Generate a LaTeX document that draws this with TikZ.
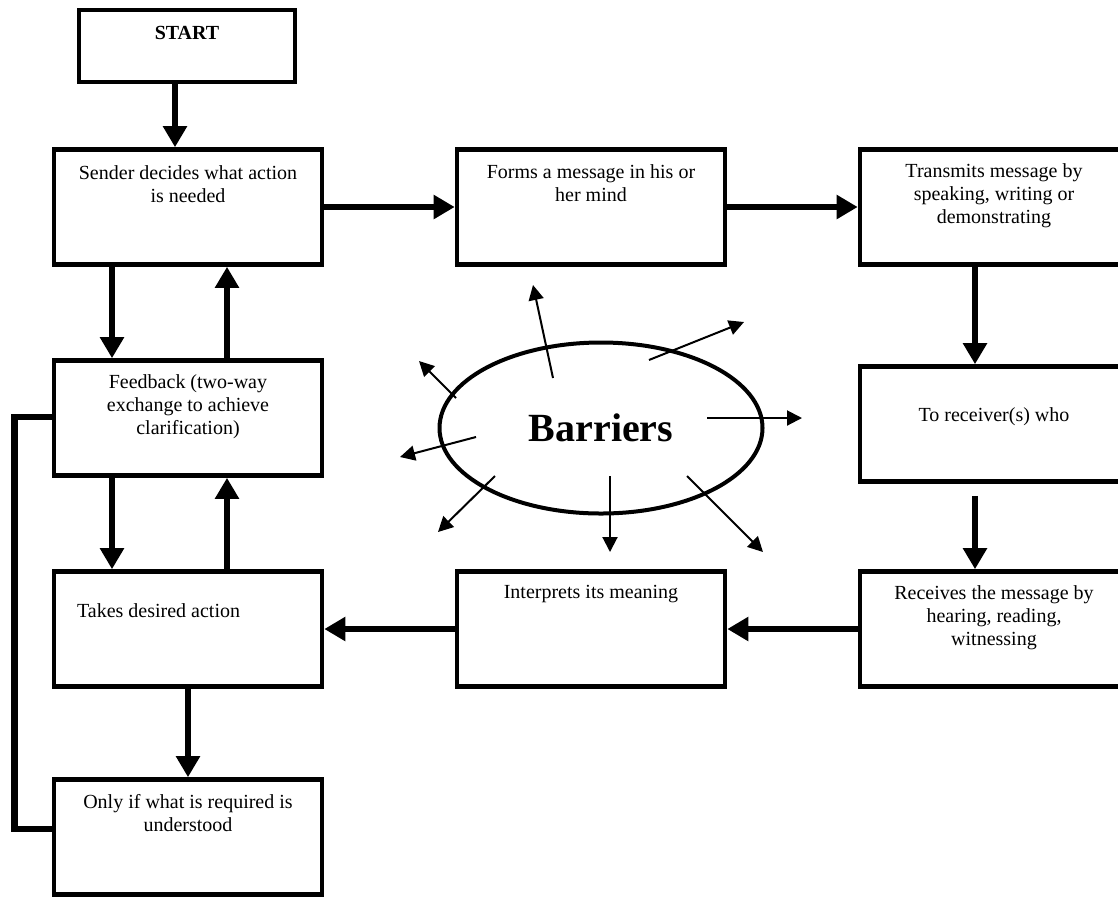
\documentclass[tikz,border=0pt]{standalone}
\usepackage{fontspec}
\setmainfont{Liberation Serif}
\usetikzlibrary{arrows.meta,shapes.geometric}

\begin{document}
\begin{tikzpicture}[x=0.5pt, y=-0.5pt, every node/.style={font=\fontsize{10}{11.5}\selectfont},
	box/.style={draw, line width=2.3pt, minimum width=134pt, minimum height=57.5pt, inner sep=0pt},
	txt/.style={anchor=north, align=center, inner sep=0pt},
	flow/.style={-{Triangle[length=10.5pt,width=11.5pt]}, line width=3.4pt},
	ray/.style={-{Triangle[length=7.5pt,width=7.5pt]}, line width=1pt}]
	\useasboundingbox (0,0) rectangle (1118,896);
	% boxes
	\node[box, minimum width=108pt, minimum height=36pt, label={[txt, yshift=-9pt, font=\fontsize{10}{11.5}\selectfont\bfseries]north:START}] (start) at (187,46) {};
	\node[box, label={[txt, yshift=-9pt]north:{Sender decides what action\\is needed}}] (sender) at (188,207) {};
	\node[box, label={[txt, yshift=-8.5pt]north:{Forms a message in his or\\her mind}}] (forms) at (591,207) {};
	\node[box, label={[txt, yshift=-8pt]north:{Transmits message by\\speaking, writing or\\demonstrating}}] (trans) at (994,207) {};
	\node[box, label={[txt, yshift=-21.5pt]north:{To receiver(s) who}}] (recv) at (994,424) {};
	\node[box, label={[txt, yshift=-8pt]north:{Receives the message by\\hearing, reading,\\witnessing}}] (rcvs) at (994,629) {};
	\node[box, label={[txt, yshift=-8pt]north:{Interprets its meaning}}] (interp) at (591,629) {};
	\node[box, label={[txt, anchor=north west, xshift=12.5pt, yshift=-17pt]north west:{Takes desired action}}] (takes) at (188,629) {};
	\node[box, label={[txt, yshift=-8pt]north:{Feedback (two-way\\exchange to achieve\\clarification)}}] (fb) at (188,418) {};
	\node[box, label={[txt, yshift=-8.5pt]north:{Only if what is required is\\understood}}] (only) at (188,837) {};
	% barriers
	\node[draw, ellipse, line width=2pt, minimum width=161.5pt, minimum height=85.5pt, inner sep=0pt, font=\fontsize{20}{24}\selectfont\bfseries] (bar) at (601,428) {Barriers};
	% main flow
	\draw[flow] ([xshift=-6pt]start.south) -- ([xshift=-6pt]start.south |- sender.north);
	\draw[flow] (sender.east) -- (forms.west);
	\draw[flow] (forms.east) -- (trans.west);
	\draw[flow] ([xshift=-9.5pt]trans.south) -- ([xshift=-9.5pt]recv.north);
	\draw[flow, shorten <=6pt] ([xshift=-9.5pt]recv.south) -- ([xshift=-9.5pt]rcvs.north);
	\draw[flow] (rcvs.west) -- (interp.west -| interp.east);
	\draw[flow] (interp.west) -- (takes.east);
	\draw[flow] ([xshift=-38pt]sender.south) -- ([xshift=-38pt]fb.north);
	\draw[flow] ([xshift=19.5pt]fb.north) -- ([xshift=19.5pt]sender.south);
	\draw[flow] ([xshift=-38pt]fb.south) -- ([xshift=-38pt]takes.north);
	\draw[flow] ([xshift=19.5pt]takes.north) -- ([xshift=19.5pt]fb.south);
	\draw[flow] (takes.south) -- (only.north);
	\draw[line width=3.4pt] ([yshift=0.5pt]fb.west) -- ++(-37,0) |- ([yshift=4pt]only.west);
	% rays out of the barriers
	\coordinate (r1a) at (553,378); \coordinate (r1b) at (533,285);
	\coordinate (r2a) at (649,360); \coordinate (r2b) at (744,322);
	\coordinate (r3a) at (456,398); \coordinate (r3b) at (419,361);
	\coordinate (r4a) at (707,418); \coordinate (r4b) at (802,418);
	\coordinate (r5a) at (476,437); \coordinate (r5b) at (400,457);
	\coordinate (r6a) at (495,476); \coordinate (r6b) at (438,532);
	\coordinate (r7a) at (610,476); \coordinate (r7b) at (610,552);
	\coordinate (r8a) at (687,476); \coordinate (r8b) at (763,552);
	\draw[ray] (r1a) -- (r1b); \draw[ray] (r2a) -- (r2b);
	\draw[ray] (r3a) -- (r3b); \draw[ray] (r4a) -- (r4b);
	\draw[ray] (r5a) -- (r5b); \draw[ray] (r6a) -- (r6b);
	\draw[ray] (r7a) -- (r7b); \draw[ray] (r8a) -- (r8b);
\end{tikzpicture}
\end{document}
